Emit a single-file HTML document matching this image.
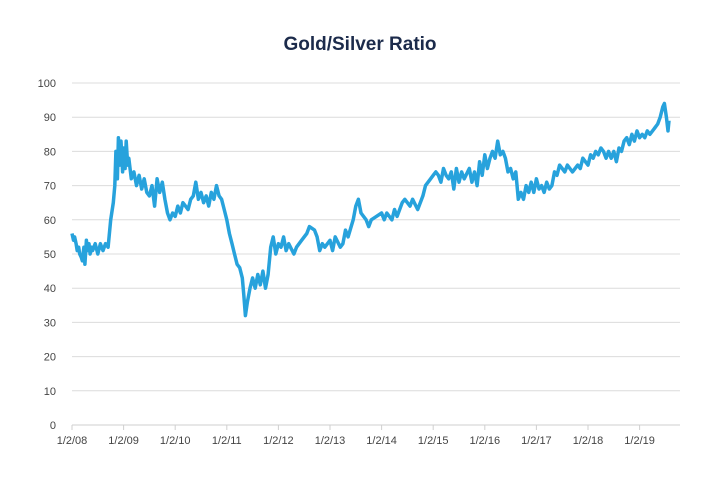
<!DOCTYPE html>
<html><head><meta charset="utf-8"><style>
html,body{margin:0;padding:0;background:#fff;width:720px;height:500px;overflow:hidden}
svg{display:block;font-family:"Liberation Sans",sans-serif}
</style></head><body>
<svg id="chart" width="720" height="500">
<text x="360" y="50" text-anchor="middle" font-size="19" font-weight="bold" fill="#1c2b4b">Gold/Silver Ratio</text>
<g id="grid"></g><g id="axes"></g><g id="series"></g>
</svg>
<script>
const yTicks=[0,10,20,30,40,50,60,70,80,90,100];
const xTickYears=[2008,2009,2010,2011,2012,2013,2014,2015,2016,2017,2018,2019];
const xTickLabels=["1/2/08","1/2/09","1/2/10","1/2/11","1/2/12","1/2/13","1/2/14","1/2/15","1/2/16","1/2/17","1/2/18","1/2/19"];
const dates=[2008.0,2008.03,2008.05,2008.08,2008.1,2008.13,2008.15,2008.18,2008.2,2008.23,2008.25,2008.28,2008.3,2008.33,2008.35,2008.38,2008.4,2008.45,2008.5,2008.55,2008.6,2008.65,2008.7,2008.75,2008.8,2008.83,2008.85,2008.88,2008.9,2008.93,2008.95,2008.98,2009.0,2009.03,2009.05,2009.08,2009.1,2009.15,2009.2,2009.25,2009.3,2009.35,2009.4,2009.45,2009.5,2009.55,2009.6,2009.65,2009.7,2009.75,2009.8,2009.85,2009.9,2009.95,2010.0,2010.05,2010.1,2010.15,2010.2,2010.25,2010.3,2010.35,2010.4,2010.45,2010.5,2010.55,2010.6,2010.65,2010.7,2010.75,2010.8,2010.85,2010.9,2010.95,2011.0,2011.05,2011.1,2011.15,2011.2,2011.25,2011.3,2011.33,2011.36,2011.4,2011.45,2011.5,2011.55,2011.6,2011.65,2011.7,2011.75,2011.8,2011.85,2011.9,2011.95,2012.0,2012.05,2012.1,2012.15,2012.2,2012.3,2012.35,2012.45,2012.55,2012.6,2012.7,2012.75,2012.8,2012.85,2012.9,2013.0,2013.05,2013.1,2013.2,2013.25,2013.3,2013.35,2013.45,2013.5,2013.55,2013.6,2013.7,2013.75,2013.8,2013.9,2014.0,2014.05,2014.1,2014.2,2014.25,2014.3,2014.4,2014.45,2014.55,2014.6,2014.7,2014.8,2014.85,2014.95,2015.0,2015.05,2015.1,2015.15,2015.2,2015.25,2015.3,2015.35,2015.4,2015.45,2015.5,2015.55,2015.6,2015.7,2015.75,2015.8,2015.85,2015.9,2015.95,2016.0,2016.05,2016.1,2016.15,2016.2,2016.25,2016.3,2016.35,2016.4,2016.45,2016.5,2016.55,2016.6,2016.65,2016.7,2016.75,2016.8,2016.85,2016.9,2016.95,2017.0,2017.05,2017.1,2017.15,2017.2,2017.25,2017.3,2017.35,2017.4,2017.45,2017.5,2017.55,2017.6,2017.65,2017.7,2017.75,2017.8,2017.85,2017.9,2017.95,2018.0,2018.05,2018.1,2018.15,2018.2,2018.25,2018.3,2018.35,2018.4,2018.45,2018.5,2018.55,2018.6,2018.65,2018.7,2018.75,2018.8,2018.85,2018.9,2018.95,2019.0,2019.05,2019.1,2019.15,2019.2,2019.25,2019.3,2019.35,2019.4,2019.45,2019.48,2019.52,2019.55,2019.57];
const ratios=[56,54,55,53,51,52,50,49,48,52,47,54,51,53,50,52,51,53,50,53,51,53,52,60,65,70,80,72,84,76,83,74,81,75,83,76,78,72,74,70,73,69,72,68,67,70,64,72,68,71,66,62,60,62,61,64,62,65,64,63,66,67,71,66,68,65,67,64,68,66,70,67,66,63,60,56,53,50,47,46,43,38,32,36,40,43,40,44,41,45,40,44,52,55,50,53,52,55,51,53,50,52,54,56,58,57,55,51,53,52,54,51,55,52,53,57,55,60,64,66,62,60,58,60,61,62,60,62,60,63,61,65,66,64,66,63,67,70,72,73,74,73,71,75,73,72,74,69,75,71,74,72,75,71,74,70,77,73,79,75,78,80,78,83,79,80,78,74,75,72,74,66,68,66,70,68,71,68,72,69,70,68,71,69,70,74,73,76,75,74,76,75,74,75,76,75,78,77,76,79,78,80,79,81,80,78,80,78,80,77,81,80,83,84,82,85,83,86,84,85,84,86,85,86,87,88,90,93,94,90,86,89];
const NS="http://www.w3.org/2000/svg";
const x=t=>72+(t-2008)*51.6;
const y=v=>425-v*3.42;
function mk(tag,attrs,parent,text){const e=document.createElementNS(NS,tag);for(const k in attrs)e.setAttribute(k,attrs[k]);if(text!==undefined)e.textContent=text;parent.appendChild(e);return e;}
const grid=document.getElementById('grid'),axes=document.getElementById('axes'),series=document.getElementById('series');
yTicks.forEach(v=>{
  const l=mk('line',{x1:72,x2:680,y1:y(v),y2:y(v),stroke:v===0?'#cfcfcf':'#dcdcdc','stroke-width':1},grid);
  
  
  const t=mk('text',{x:56,y:y(v)+4,'text-anchor':'end','font-size':11,fill:'#444'},axes,String(v));
  
  
});
xTickYears.forEach((yr,i)=>{
  const tk=mk('line',{x1:x(yr),x2:x(yr),y1:425,y2:430,stroke:'#cfcfcf'},axes);
  
  
  const t=mk('text',{x:x(yr),y:444,'text-anchor':'middle','font-size':11,fill:'#444'},axes,xTickLabels[i]);
  
  
});
const d=dates.map((t,i)=>(i?'L':'M')+x(t).toFixed(1)+' '+y(ratios[i]).toFixed(1)).join(' ');
const p=mk('path',{d:d,fill:'none',stroke:'#27a2dc','stroke-width':3.5,'stroke-linejoin':'round'},series);


</script>
</body></html>
